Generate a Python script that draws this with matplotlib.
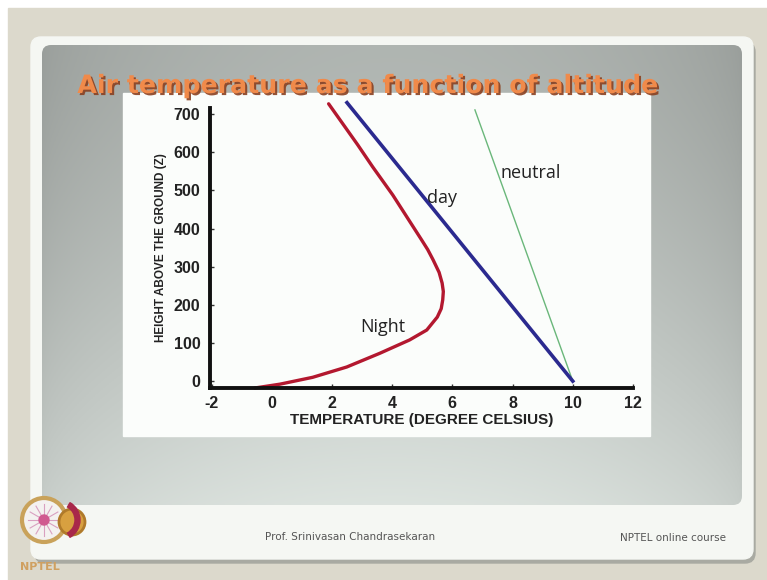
#!/usr/bin/env python3
"""
Slide: air temperature as a function of altitude (night / day / neutral profiles).
"""

import numpy as np
import matplotlib
matplotlib.use("Agg")
import matplotlib.pyplot as plt
from matplotlib.patches import FancyBboxPatch, Rectangle, Circle, Wedge
import matplotlib.patheffects as pe

# Data: temperature (deg C) vs height above ground (Z)
night_temp = [-0.56, 0.27, 1.36, 2.49, 3.59, 4.58, 5.15, 5.5, 5.63, 5.68, 5.7, 5.66, 5.56, 5.36,
              5.18, 4.98, 4.02, 3.35, 2.86, 1.89]
night_height = [-18, -8, 10, 37, 73, 108, 134, 168, 190, 213, 235, 257, 285, 318,
                345, 370, 488, 562, 619, 727]
day_temp = [10.0, 2.5]
day_height = [0, 730]
neutral_temp = [10.0, 6.75]
neutral_height = [0, 711]

x_ticks = [-2, 0, 2, 4, 6, 8, 10, 12]
y_ticks = [0, 100, 200, 300, 400, 500, 600, 700]

plt.rcParams["axes.unicode_minus"] = False

W, H = 767, 580
fig = plt.figure(figsize=(W / 100, H / 100), dpi=100)

# background layer in pixel coordinates
bg = fig.add_axes([0, 0, 1, 1])
bg.axis("off")

bg.add_patch(Rectangle((0, 0), W, H, color="white", zorder=0))
bg.add_patch(Rectangle((8, 8), W - 8, H - 8, color="#dcd9cc", zorder=1))

# slide frame with a soft shadow
bg.add_patch(FancyBboxPatch((35, 42), 720, 521, boxstyle="round,pad=0,rounding_size=10",
                            color="#a9aaa2", zorder=2))
bg.add_patch(FancyBboxPatch((31, 37), 722, 522, boxstyle="round,pad=0,rounding_size=10",
                            color="#f5f7f3", zorder=3))

# grey gradient panel
gx = np.linspace(0, 1, 300)
gy = np.linspace(0, 1, 200)
GX, GY = np.meshgrid(gx, gy)
shade = 0.62 + 0.09 * np.sin(np.pi * GX) ** 0.6 + 0.18 * GY ** 1.3
shade = np.clip(shade, 0, 1)
rgb = np.dstack([shade * 0.97, shade * 1.0, shade * 0.98])
rgb = np.clip(rgb, 0, 1)
panel = FancyBboxPatch((42, 45), 700, 460, boxstyle="round,pad=0,rounding_size=9",
                       facecolor="none", edgecolor="none", zorder=4)
bg.add_patch(panel)
im = bg.imshow(rgb, extent=(42, 742, 505, 45), aspect="auto", zorder=4)
im.set_clip_path(panel)
bg.set_xlim(0, W)
bg.set_ylim(H, 0)

# white chart box
bg.add_patch(Rectangle((123, 93), 527, 343, color="#fbfdfb", zorder=5))

# title with shadow
bg.text(368, 86, "Air temperature as a function of altitude", ha="center", va="center",
        fontsize=18.2, fontweight="heavy", color="#f08a4a", family="DejaVu Sans", zorder=6,
        path_effects=[pe.withSimplePatchShadow(offset=(1.5, -1.5), shadow_rgbFace="#8a4020", alpha=0.9)])

# footer
bg.text(350, 537, "Prof. Srinivasan Chandrasekaran", ha="center", va="center",
        fontsize=7.5, color="#555555", family="Liberation Sans Narrow", zorder=6)
bg.text(673, 538, "NPTEL online course", ha="center", va="center",
        fontsize=7.5, color="#555555", family="Liberation Sans Narrow", zorder=6)

# rough NPTEL logo
bg.add_patch(Circle((44, 520), 22, facecolor="#f4f2f0", edgecolor="#c9a25a", lw=3, zorder=6))
bg.add_patch(Circle((44, 520), 5, color="#d05a90", zorder=7))
for a in np.linspace(0, 2 * np.pi, 12, endpoint=False):
    bg.plot([44, 44 + 16 * np.cos(a)], [520, 520 + 16 * np.sin(a)], color="#d9a0c0", lw=0.8, zorder=6)
bg.add_patch(Circle((72, 522), 13, facecolor="#d8a040", edgecolor="#b07a2a", lw=2, zorder=7))
bg.add_patch(Wedge((60, 520), 20, -60, 60, width=5, color="#a8284a", zorder=8))
bg.text(40, 567, "NPTEL", ha="center", va="center", fontsize=8, fontweight="bold",
        color="#d0a060", zorder=8)

# chart axes
ax = fig.add_axes([210 / W, (H - 388) / H, (633 - 210) / W, (388 - 108) / H])
ax.set_facecolor("none")
ax.plot(neutral_temp, neutral_height, color="#6ab77a", lw=1.0, clip_on=False)
ax.plot(day_temp, day_height, color="#2b2a8f", lw=2.6, clip_on=False)
ax.plot(night_temp, night_height, color="#b3182f", lw=2.4, clip_on=False,
        solid_capstyle="round", solid_joinstyle="round")

ax.set_xlim(-2.05, 12)
ax.set_ylim(-18, 716)
ax.set_xticks(x_ticks)
ax.set_yticks(y_ticks)
for s in ["top", "right"]:
    ax.spines[s].set_visible(False)
for s in ["left", "bottom"]:
    ax.spines[s].set_linewidth(2.8)
    ax.spines[s].set_color("#111111")
ax.tick_params(direction="in", length=3, width=1, colors="#333333", labelcolor="#222222")
for lab in ax.get_xticklabels() + ax.get_yticklabels():
    lab.set_fontfamily("Liberation Sans")
    lab.set_fontweight("bold")
    lab.set_fontsize(11.5)
ax.tick_params(axis="x", pad=6)
ax.tick_params(axis="y", pad=7)

ax.set_xlabel("TEMPERATURE (DEGREE CELSIUS)", family="Liberation Sans", fontweight="bold",
              fontsize=11, color="#222222", labelpad=1)
ax.set_ylabel("HEIGHT ABOVE THE GROUND (Z)", family="Liberation Sans", fontweight="bold",
              fontsize=8.5, color="#222222", labelpad=5)

ax.text(7.6, 546, "neutral", fontsize=13, family="Open Sans", color="#222222", va="center")
ax.text(5.15, 480, "day", fontsize=13, family="Open Sans", color="#222222", va="center")
ax.text(2.95, 142, "Night", fontsize=13, family="Open Sans", color="#222222", va="center")

fig.savefig("out.png", dpi=100)
